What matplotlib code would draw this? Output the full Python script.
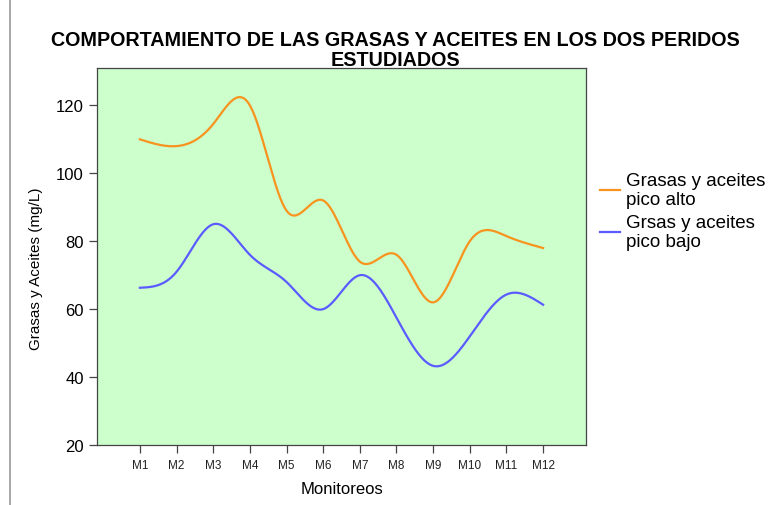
import numpy as np
import matplotlib
matplotlib.use("Agg")
import matplotlib.pyplot as plt
from matplotlib.lines import Line2D

plt.rcParams["font.family"] = ["Liberation Sans", "DejaVu Sans"]

months = ["M1", "M2", "M3", "M4", "M5", "M6", "M7", "M8", "M9", "M10", "M11", "M12"]
pico_alto = [110, 108, 114.5, 120, 89, 92, 74, 76, 62, 80, 81.5, 78]
pico_bajo = [66.3, 71, 85, 76, 68, 60, 70, 57.5, 43.3, 52, 64.3, 61.3]


def natural_spline(x, y, xs):
    # plain natural cubic spline, just for drawing the smooth curve
    x = np.asarray(x, float)
    y = np.asarray(y, float)
    n = len(x)
    h = np.diff(x)
    A = np.zeros((n, n))
    b = np.zeros(n)
    A[0, 0] = A[-1, -1] = 1
    for i in range(1, n - 1):
        A[i, i - 1] = h[i - 1]
        A[i, i] = 2 * (h[i - 1] + h[i])
        A[i, i + 1] = h[i]
        b[i] = 6 * ((y[i + 1] - y[i]) / h[i] - (y[i] - y[i - 1]) / h[i - 1])
    m = np.linalg.solve(A, b)
    idx = np.clip(np.searchsorted(x, xs) - 1, 0, n - 2)
    x0, x1 = x[idx], x[idx + 1]
    hh = x1 - x0
    t0, t1 = x1 - xs, xs - x0
    return (m[idx] * t0 ** 3 / (6 * hh) + m[idx + 1] * t1 ** 3 / (6 * hh)
            + (y[idx] / hh - m[idx] * hh / 6) * t0
            + (y[idx + 1] / hh - m[idx + 1] * hh / 6) * t1)


W, H = 779, 506
fig = plt.figure(figsize=(W / 100, H / 100), dpi=100)
ax = fig.add_axes([97 / W, 1 - 446 / H, (586 - 97) / W, (446 - 69) / H])
ax.set_facecolor("#CCFFCC")

pos = np.arange(1, len(months) + 1)
xs = np.linspace(1, len(months), 400)
ax.plot(xs, natural_spline(pos, pico_alto, xs), color="#F7931E", lw=1.6,
        label="Grasas y aceites\npico alto")
ax.plot(xs, natural_spline(pos, pico_bajo, xs), color="#5B5BFF", lw=1.6,
        label="Grsas y aceites\npico bajo")

ax.set_xlim(-0.17, 13.17)
ax.set_ylim(20, 131)
ax.set_yticks([20, 40, 60, 80, 100, 120])
ax.set_xticks(pos)
ax.set_xticklabels(months, fontsize=8.5, color="#222222")
ax.tick_params(axis="y", labelsize=12, length=6, width=0.9, color="#444444")
ax.tick_params(axis="x", length=6, width=0.9, color="#444444", pad=4)
for s in ax.spines.values():
    s.set_color("#444444")
    s.set_linewidth(0.9)

ax.set_xlabel("Monitoreos", fontsize=12, labelpad=7)
ax.set_ylabel("Grasas y Aceites (mg/L)", fontsize=11, labelpad=10)
ax.yaxis.set_label_coords(-0.11, 0.47)

fig.text(395 / W, 1 - 41 / H, "COMPORTAMIENTO DE LAS GRASAS Y ACEITES EN LOS DOS PERIDOS",
         ha="center", va="center", fontsize=14.2, fontweight="bold")
fig.text(395 / W, 1 - 61 / H, "ESTUDIADOS",
         ha="center", va="center", fontsize=14.2, fontweight="bold")

fig.legend(loc="upper left", bbox_to_anchor=(592 / W, 1 - 165 / H), frameon=False,
           fontsize=13.5, handlelength=1.1, handletextpad=0.3, labelspacing=0.3,
           borderaxespad=0)

fig.add_artist(Line2D([10 / W, 10 / W], [0, 1], color="#999999", lw=1.2))

fig.savefig("out.png", dpi=100)
